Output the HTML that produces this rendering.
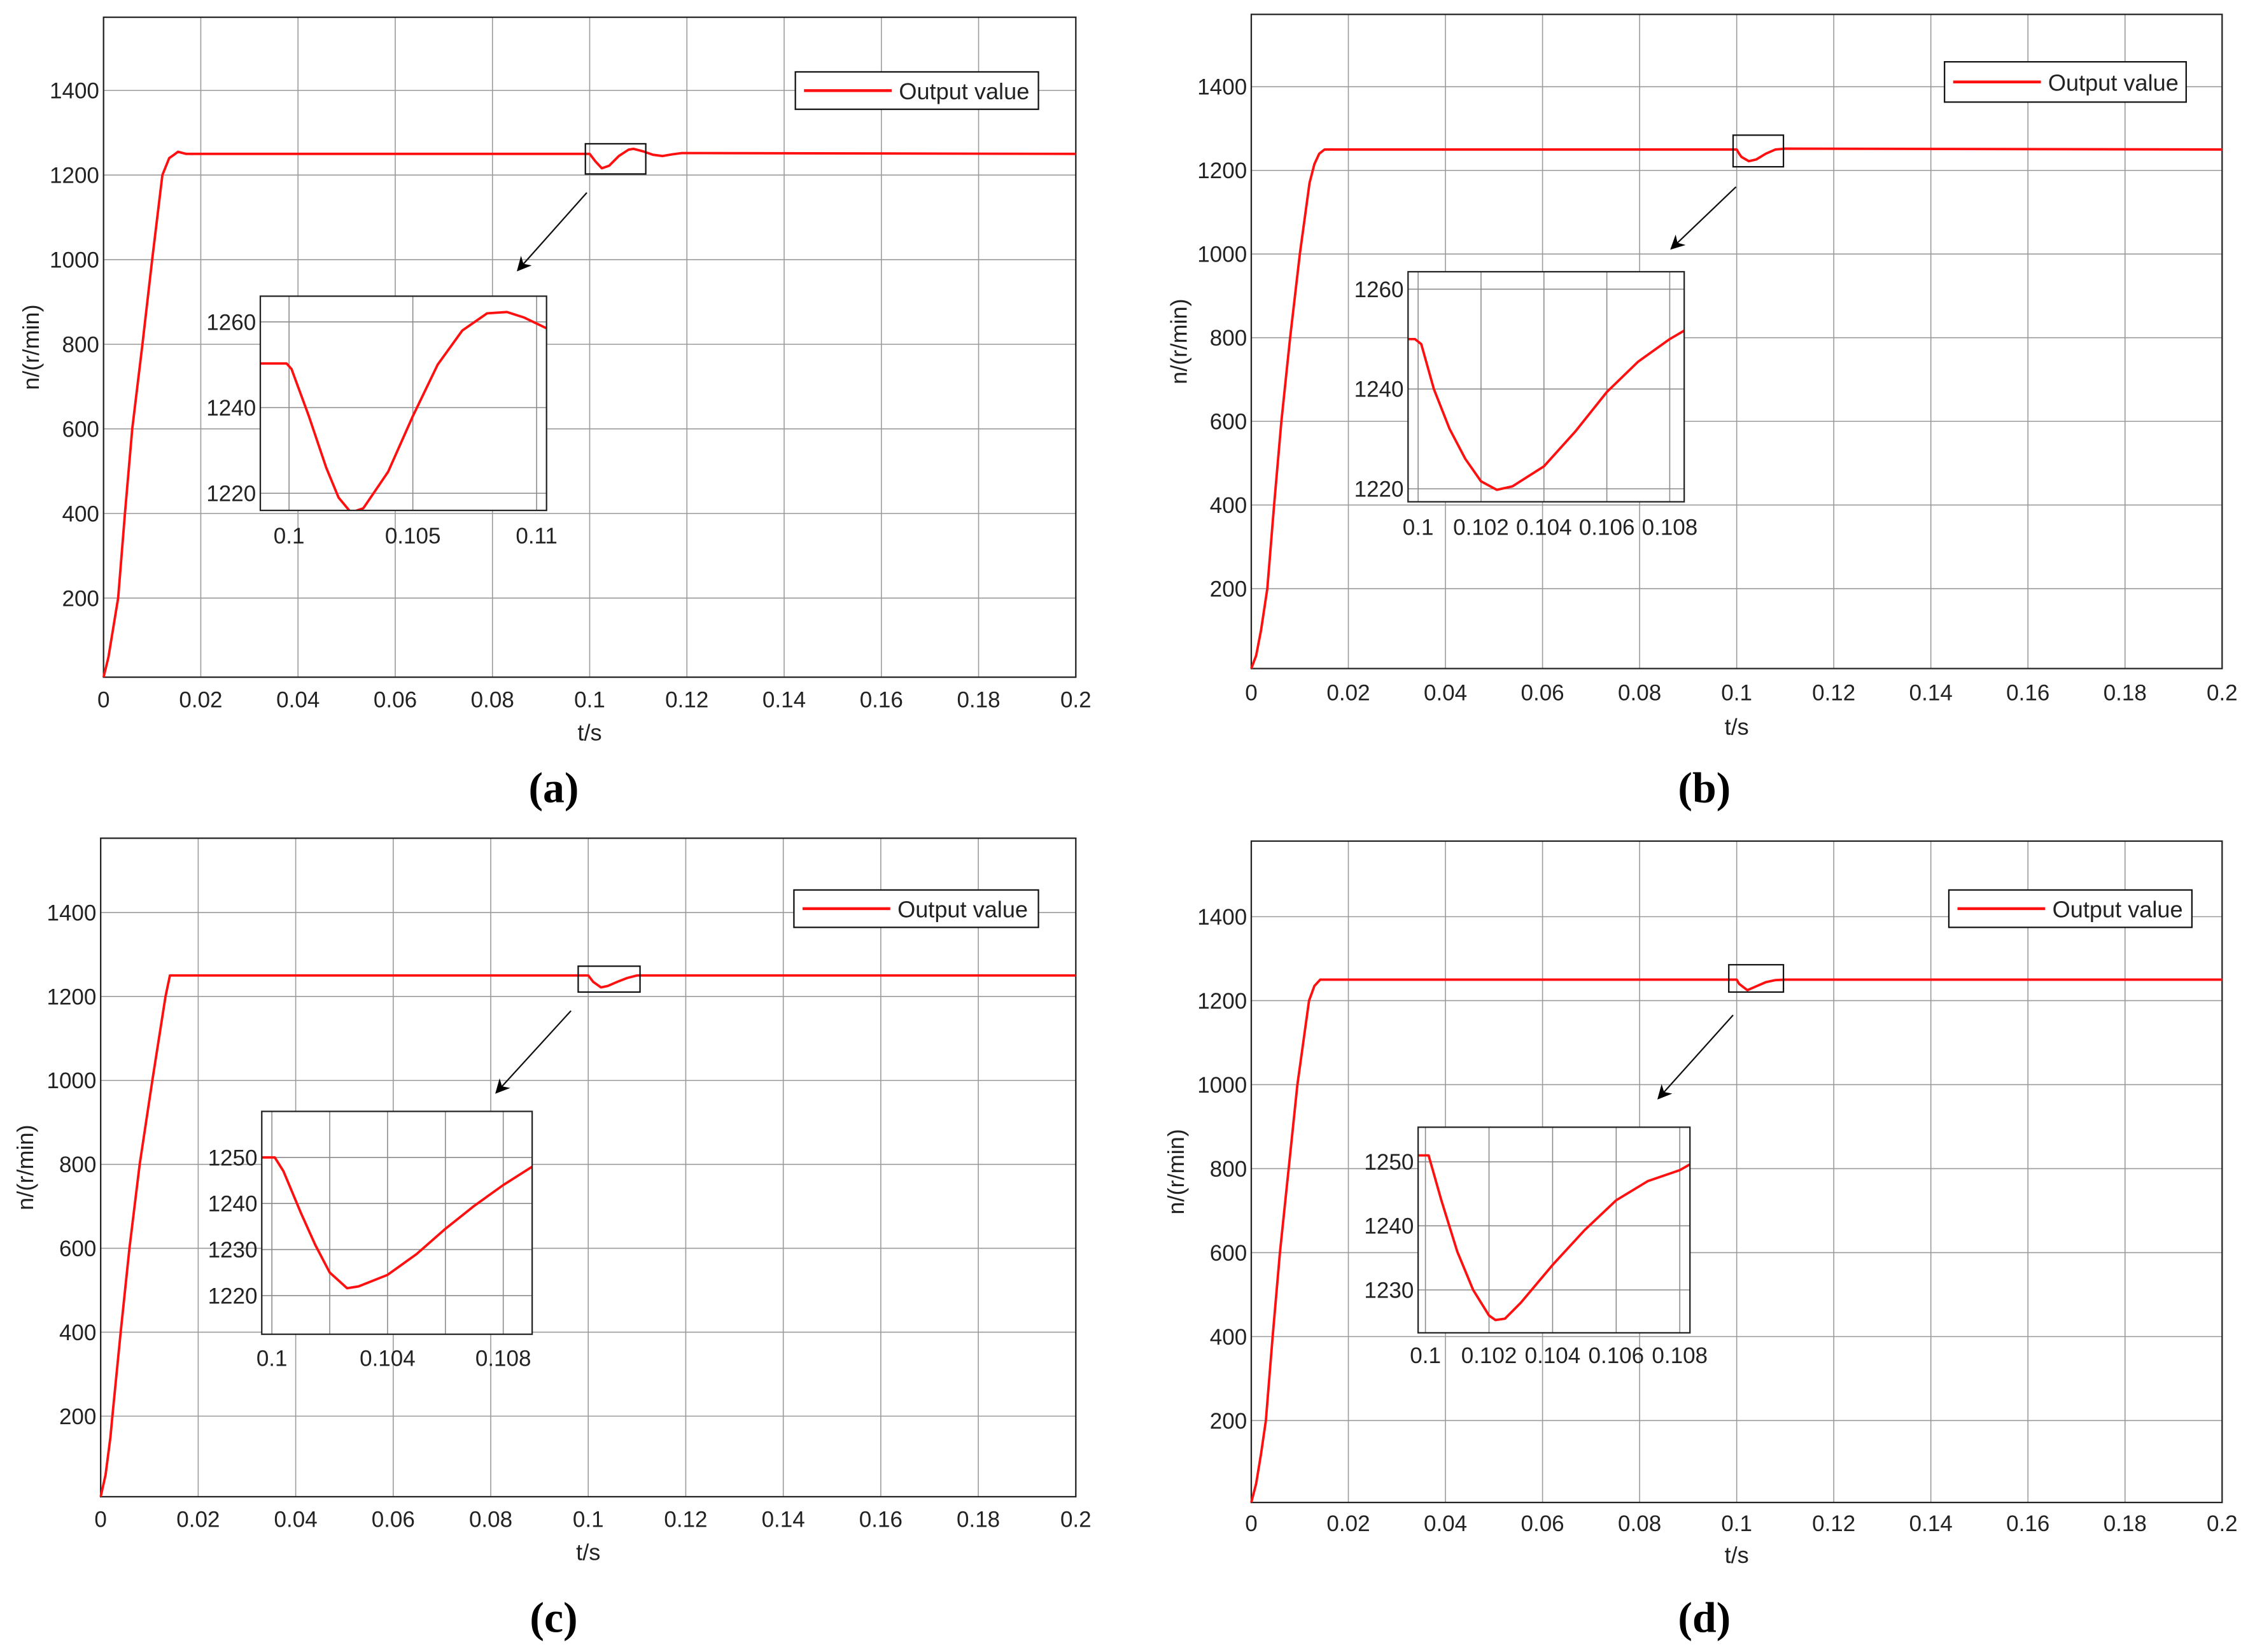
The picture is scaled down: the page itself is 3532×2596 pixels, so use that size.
<!DOCTYPE html>
<html><head><meta charset="utf-8"><title>Speed response charts</title>
<style>
html,body{margin:0;padding:0;background:#fff;}
svg{display:block;}
text{font-family:"Liberation Sans",Arial,sans-serif;fill:#222;}
.pl{font-family:"Liberation Serif",serif;font-weight:bold;fill:#000;}
</style></head>
<body>
<svg id="fig" width="3532" height="2596" viewBox="0 0 1563 1149" preserveAspectRatio="none" xmlns="http://www.w3.org/2000/svg">
<defs></defs>
</svg>
<script>
// ---- data ----
const xTicksMain = [0,0.02,0.04,0.06,0.08,0.1,0.12,0.14,0.16,0.18,0.2];
const xTickLabelsMain = ["0","0.02","0.04","0.06","0.08","0.1","0.12","0.14","0.16","0.18","0.2"];
const yTicksMain = [200,400,600,800,1000,1200,1400];
const panelLetters = ["(a)","(b)","(c)","(d)"];

const mainT_a = [0,0.001,0.002,0.003,0.0044,0.0059,0.008,0.010,0.0121,0.0135,0.0145,0.0153,0.017,0.1,0.1012,0.1025,0.104,0.106,0.108,0.109,0.111,0.113,0.115,0.117,0.119,0.2];
const mainN_a = [13,60,130,200,400,600,800,1000,1200,1240,1248,1255,1250,1250,1232,1216,1222,1245,1260,1262,1256,1248,1245,1249,1252,1250];
const insetT_a = [0.0988,0.0999,0.1001,0.1008,0.1015,0.102,0.1025,0.103,0.104,0.105,0.106,0.107,0.108,0.1088,0.1095,0.1104];
const insetN_a = [1250.3,1250.3,1249,1238,1226,1219,1215.5,1216.5,1225,1238,1250,1258,1262,1262.3,1261,1258.5];
const insetXTicks_a = [0.1,0.105,0.11];
const insetXLabels_a = ["0.1","0.105","0.11"];
const insetYTicks_a = [1220,1240,1260];

const mainT_b = [0,0.001,0.002,0.0033,0.0047,0.0062,0.008,0.010,0.012,0.013,0.014,0.0151,0.1,0.1005,0.101,0.1025,0.104,0.106,0.108,0.11,0.2];
const mainN_b = [9,40,100,200,400,600,800,1000,1170,1215,1240,1250,1250,1240,1232,1222,1226,1240,1250,1252,1250];
const insetT_b = [0.09968,0.0999,0.1001,0.1005,0.101,0.1015,0.102,0.1025,0.103,0.104,0.105,0.106,0.107,0.108,0.10846];
const insetN_b = [1250,1250,1249,1240,1232,1226,1221.5,1219.8,1220.5,1224.5,1231.5,1239.4,1245.5,1250,1251.7];
const insetXTicks_b = [0.1,0.102,0.104,0.106,0.108];
const insetXLabels_b = ["0.1","0.102","0.104","0.106","0.108"];
const insetYTicks_b = [1220,1240,1260];

const mainT_c = [0,0.001,0.002,0.0024,0.0041,0.0059,0.008,0.0106,0.0133,0.0142,0.015,0.1,0.101,0.1026,0.104,0.106,0.108,0.11,0.2];
const mainN_c = [8,60,150,200,400,600,800,1000,1200,1250,1250,1250,1235,1221.6,1225,1235,1244,1250,1250];
const insetT_c = [0.09965,0.1001,0.1004,0.101,0.1015,0.102,0.1026,0.103,0.104,0.105,0.106,0.107,0.108,0.109];
const insetN_c = [1250,1250,1247,1238,1231,1225,1221.6,1222,1224.5,1229,1234.5,1239.5,1244,1248];
const insetXTicks_c = [0.1,0.102,0.104,0.106,0.108];
const insetXLabels_c = ["0.1","","0.104","","0.108"];
const insetYTicks_c = [1220,1230,1240,1250];

const mainT_d = [0,0.001,0.002,0.003,0.0044,0.0059,0.0077,0.0095,0.0119,0.013,0.0142,0.1,0.1005,0.1022,0.104,0.106,0.108,0.11,0.2];
const mainN_d = [5,50,120,200,400,600,800,1000,1200,1235,1250,1250,1240,1225,1234,1244,1249,1250,1250];
const insetT_d = [0.09977,0.1001,0.1005,0.101,0.1015,0.102,0.1022,0.1025,0.103,0.104,0.105,0.106,0.107,0.108,0.10832];
const insetN_d = [1251,1251,1244,1236,1230,1226,1225.3,1225.5,1228,1233.9,1239.3,1244,1247,1248.7,1249.6];
const insetXTicks_d = [0.1,0.102,0.104,0.106,0.108];
const insetXLabels_d = ["0.1","0.102","0.104","0.106","0.108"];
const insetYTicks_d = [1230,1240,1250];

// ---- layout (overview units) ----
const panels = [
 {id:'a', ax:[72,748,12,471], yl:[13,1573], tickY:487, xlabY:510, ylabX:22, letter:[385,548],
  leg:[553,50,169,26], zoom:[407,100,42,21], arrow:[408,134,360,188],
  ins:[181,380,206,355], ixl:[0.09884,0.1104], iyl:[1216,1266], itY:373,
  mt:mainT_a, mn:mainN_a, it:insetT_a, inn:insetN_a, ixt:insetXTicks_a, ixlab:insetXLabels_a, iyt:insetYTicks_a},
 {id:'b', ax:[870,1545,10,465], yl:[9,1573], tickY:482, xlabY:506, ylabX:820, letter:[1185,548],
  leg:[1352,43,168,28], zoom:[1205,94,35,22], arrow:[1207,130,1162,173],
  ins:[979,1171,189,349], ixl:[0.09968,0.10846], iyl:[1217.4,1263.5], itY:367,
  mt:mainT_b, mn:mainN_b, it:insetT_b, inn:insetN_b, ixt:insetXTicks_b, ixlab:insetXLabels_b, iyt:insetYTicks_b},
 {id:'c', ax:[70,748,583,1041], yl:[8,1577], tickY:1057, xlabY:1080, ylabX:18, letter:[385,1125],
  leg:[552,619,170,26], zoom:[402,672,43,18], arrow:[397,703,345,760],
  ins:[182,370,773,928], ixl:[0.09965,0.109], iyl:[1211.6,1260], itY:945,
  mt:mainT_c, mn:mainN_c, it:insetT_c, inn:insetN_c, ixt:insetXTicks_c, ixlab:insetXLabels_c, iyt:insetYTicks_c},
 {id:'d', ax:[870,1545,585,1045], yl:[5,1580], tickY:1060, xlabY:1082, ylabX:818, letter:[1185,1125],
  leg:[1355,619,169,26], zoom:[1202,671,38,19], arrow:[1205,706,1153,764],
  ins:[986,1175,784,927], ixl:[0.09977,0.10832], iyl:[1223.3,1255.4], itY:943,
  mt:mainT_d, mn:mainN_d, it:insetT_d, inn:insetN_d, ixt:insetXTicks_d, ixlab:insetXLabels_d, iyt:insetYTicks_d}
];

const NS='http://www.w3.org/2000/svg';
const svg=document.getElementById('fig');
const defs=svg.querySelector('defs');
function mk(tag,attrs,parent){const e=document.createElementNS(NS,tag);for(const k in attrs)e.setAttribute(k,attrs[k]);(parent||svg).appendChild(e);return e;}
function txt(s,attrs,parent){const e=mk('text',attrs,parent);e.textContent=s;return e;}

const mark=mk('marker',{id:'ah',markerWidth:'10',markerHeight:'10',refX:'9',refY:'5',orient:'auto',markerUnits:'userSpaceOnUse'},defs);
mk('path',{d:'M0,0 L10,5 L0,10 L3,5 Z',fill:'#000'},mark);

panels.forEach((p,pi)=>{
  const g=mk('g',{});
  
  
  const [L,R,T,B]=p.ax;
  const xs=t=>L+(t-0)/(0.2)*(R-L);
  const ys=v=>B-(v-p.yl[0])/(p.yl[1]-p.yl[0])*(B-T);
  // grid
  xTicksMain.forEach((t,i)=>{
    const ln=mk('line',{x1:xs(t),x2:xs(t),y1:T,y2:B,stroke:'#9a9a9a','stroke-width':0.7},g);
    
    
    const tl=txt(xTickLabelsMain[i],{x:xs(t),y:p.tickY+5,'text-anchor':'middle','font-size':15.5},g);
    
    
  });
  yTicksMain.forEach(v=>{
    const ln=mk('line',{x1:L,x2:R,y1:ys(v),y2:ys(v),stroke:'#9a9a9a','stroke-width':0.7},g);
    
    
    const tl=txt(String(v),{x:L-3,y:ys(v)+5.5,'text-anchor':'end','font-size':15.5},g);
    
    
  });
  const frame=mk('rect',{x:L,y:T,width:R-L,height:B-T,fill:'none',stroke:'#222','stroke-width':1},g);
  
  
  // main curve
  const pts=p.mt.map((t,i)=>xs(t).toFixed(2)+','+ys(p.mn[i]).toFixed(2)).join(' ');
  const line=mk('polyline',{points:pts,fill:'none',stroke:'#ff1010','stroke-width':1.7,'stroke-linejoin':'round'},g);
  
  
  // axis titles
  const xl=txt('t/s',{x:(L+R)/2,y:p.xlabY+5,'text-anchor':'middle','font-size':16},g);
  
  
  const yc=(T+B)/2;
  const yl=txt('n/(r/min)',{x:p.ylabX+5,y:yc,'text-anchor':'middle','font-size':16,transform:'rotate(-90 '+(p.ylabX+5)+' '+yc+')'},g);
  
  
  // legend
  const [lx,ly,lw,lh]=p.leg;
  const lg=mk('g',{},g);
  
  
  mk('rect',{x:lx,y:ly,width:lw,height:lh,fill:'#fff',stroke:'#111','stroke-width':1},lg);
  mk('line',{x1:lx+6,x2:lx+67,y1:ly+lh/2,y2:ly+lh/2,stroke:'#ff1010','stroke-width':2},lg);
  const lt=txt('Output value',{x:lx+72,y:ly+lh/2+6,'font-size':16},lg);
  
  
  // zoom box and arrow
  const zb=mk('rect',{x:p.zoom[0],y:p.zoom[1],width:p.zoom[2],height:p.zoom[3],fill:'none',stroke:'#111','stroke-width':1},g);
  
  
  const ar=mk('line',{x1:p.arrow[0],y1:p.arrow[1],x2:p.arrow[2],y2:p.arrow[3],stroke:'#111','stroke-width':1,'marker-end':'url(#ah)'},g);
  
  
  // inset
  const [iL,iR,iT,iB]=p.ins;
  const ig=mk('g',{},g);
  
  
  mk('rect',{x:iL,y:iT,width:iR-iL,height:iB-iT,fill:'#fff'},ig);
  const ixs=t=>iL+(t-p.ixl[0])/(p.ixl[1]-p.ixl[0])*(iR-iL);
  const iys=v=>iB-(v-p.iyl[0])/(p.iyl[1]-p.iyl[0])*(iB-iT);
  p.ixt.forEach((t,i)=>{
    const ln=mk('line',{x1:ixs(t),x2:ixs(t),y1:iT,y2:iB,stroke:'#8a8a8a','stroke-width':0.7},ig);
    
    
    if(p.ixlab[i]){
      const tl=txt(p.ixlab[i],{x:ixs(t),y:p.itY+5,'text-anchor':'middle','font-size':15.5},ig);
      
      
    }
  });
  p.iyt.forEach(v=>{
    const ln=mk('line',{x1:iL,x2:iR,y1:iys(v),y2:iys(v),stroke:'#8a8a8a','stroke-width':0.7},ig);
    
    
    const tl=txt(String(v),{x:iL-3,y:iys(v)+5.5,'text-anchor':'end','font-size':15.5},ig);
    
    
  });
  const cp=mk('clipPath',{id:'clip'+p.id},defs);
  mk('rect',{x:iL,y:iT,width:iR-iL,height:iB-iT},cp);
  const ipts=p.it.map((t,i)=>ixs(t).toFixed(2)+','+iys(p.inn[i]).toFixed(2)).join(' ');
  const il=mk('polyline',{points:ipts,fill:'none',stroke:'#ff1010','stroke-width':1.7,'stroke-linejoin':'round','clip-path':'url(#clip'+p.id+')'},ig);
  
  
  mk('rect',{x:iL,y:iT,width:iR-iL,height:iB-iT,fill:'none',stroke:'#222','stroke-width':1},ig);
  // panel letter
  const pl=txt(panelLetters[pi],{x:p.letter[0],y:p.letter[1]+10,'text-anchor':'middle','font-size':30,'class':'pl'},g);
  
  
});
</script>
</body></html>
